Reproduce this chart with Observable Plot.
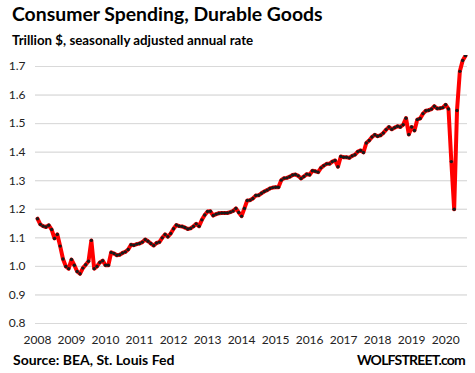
<!DOCTYPE html>
<html>
<head>
<meta charset="utf-8">
<script src="https://cdn.jsdelivr.net/npm/d3@7"></script>
<script src="https://cdn.jsdelivr.net/npm/@observablehq/plot@0.6"></script>
<style>
  html, body { margin: 0; padding: 0; background: #fff; }
  #wrap { position: relative; width: 475px; height: 373px; font-family: Lato, "Open Sans", sans-serif; }
  #head { height: 55px; position: relative; }
  #title { position: absolute; left: 12px; top: 2px; font-size: 19.4px; font-weight: bold; color: #000; white-space: nowrap; }
  #subtitle { position: absolute; left: 12px; top: 32px; font-size: 13.3px; font-weight: bold; color: #000; white-space: nowrap; }
  #foot { position: relative; height: 26px; }
  #src { position: absolute; left: 13px; top: 4px; font-size: 14px; font-weight: bold; color: #000; white-space: nowrap; }
  #brand { position: absolute; right: 10px; top: 4px; font-size: 14px; font-weight: bold; color: #000; white-space: nowrap; letter-spacing: -0.8px; }
  svg { display: block; }
</style>
</head>
<body>
<div id="wrap">
  <div id="head">
    <div id="title">Consumer Spending, Durable Goods</div>
    <div id="subtitle">Trillion $, seasonally adjusted annual rate</div>
  </div>
  <div id="chart"></div>
  <div id="foot">
    <div id="src">Source: BEA, St. Louis Fed</div>
    <div id="brand">WOLFSTREET.com</div>
  </div>
</div>
<script>
// Monthly data, Jan 2008 .. Aug 2020 (trillion $, SAAR)
const startYear = 2008;
const values = [
  1.167, 1.147, 1.141, 1.138, 1.144, 1.129, 1.098, 1.112, 1.071, 1.026, 1.000, 0.992,
  1.024, 1.004, 0.982, 0.974, 0.994, 1.006, 1.018, 1.091, 0.992, 1.000, 1.014, 1.020,
  1.004, 1.004, 1.049, 1.045, 1.039, 1.041, 1.047, 1.051, 1.059, 1.076, 1.074, 1.078,
  1.080, 1.085, 1.094, 1.088, 1.080, 1.073, 1.082, 1.085, 1.100, 1.112, 1.104, 1.115,
  1.132, 1.145, 1.141, 1.140, 1.136, 1.131, 1.133, 1.140, 1.149, 1.141, 1.163, 1.180,
  1.192, 1.193, 1.178, 1.183, 1.186, 1.187, 1.187, 1.187, 1.190, 1.194, 1.203, 1.189,
  1.176, 1.203, 1.231, 1.232, 1.238, 1.248, 1.249, 1.256, 1.262, 1.267, 1.273, 1.276,
  1.277, 1.277, 1.302, 1.309, 1.310, 1.314, 1.320, 1.322, 1.317, 1.308, 1.315, 1.323,
  1.321, 1.335, 1.333, 1.330, 1.345, 1.353, 1.359, 1.359, 1.367, 1.371, 1.349, 1.385,
  1.382, 1.382, 1.380, 1.387, 1.391, 1.402, 1.406, 1.399, 1.432, 1.441, 1.453, 1.461,
  1.456, 1.459, 1.467, 1.479, 1.488, 1.480, 1.486, 1.491, 1.488, 1.496, 1.519, 1.462,
  1.488, 1.476, 1.514, 1.518, 1.535, 1.545, 1.547, 1.551, 1.561, 1.553, 1.554, 1.556,
  1.566, 1.551, 1.367, 1.200, 1.546, 1.683, 1.721, 1.738
];
const yearLabels = ["2008","2009","2010","2011","2012","2013","2014","2015","2016","2017","2018","2019","2020"];
const yTicks = [0.8, 0.9, 1.0, 1.1, 1.2, 1.3, 1.4, 1.5, 1.6, 1.7];

const data = values.map((v, i) => ({month: i, value: v}));
const yearTicks = yearLabels.map((_, i) => i * 12);

const chart = Plot.plot({
  width: 475,
  height: 292,
  marginTop: 11,
  marginBottom: 24,
  marginLeft: 35,
  marginRight: 8,
  style: {fontFamily: "Lato, 'Open Sans', sans-serif", fontSize: "12px", color: "#222", background: "#fff"},
  x: {domain: [-0.7, values.length - 1 + 0.7], ticks: yearTicks, tickFormat: d => yearLabels[d / 12], tickSize: 0, tickPadding: 12, label: null},
  y: {domain: [0.8, 1.7], ticks: yTicks, tickFormat: d3.format(".1f"), tickSize: 0, tickPadding: 10, label: null, grid: true},
  marks: [
    Plot.gridY(yTicks, {stroke: "#d9d9d9", strokeOpacity: 1, strokeWidth: 1}),
    Plot.line(data, {x: "month", y: "value", stroke: "#ff0000", strokeWidth: 4, strokeLinejoin: "round"}),
    Plot.dot(data, {x: "month", y: "value", r: 1.7, fill: "#1a1a1a", stroke: "none"})
  ]
});
document.getElementById("chart").appendChild(chart);
</script>
</body>
</html>
